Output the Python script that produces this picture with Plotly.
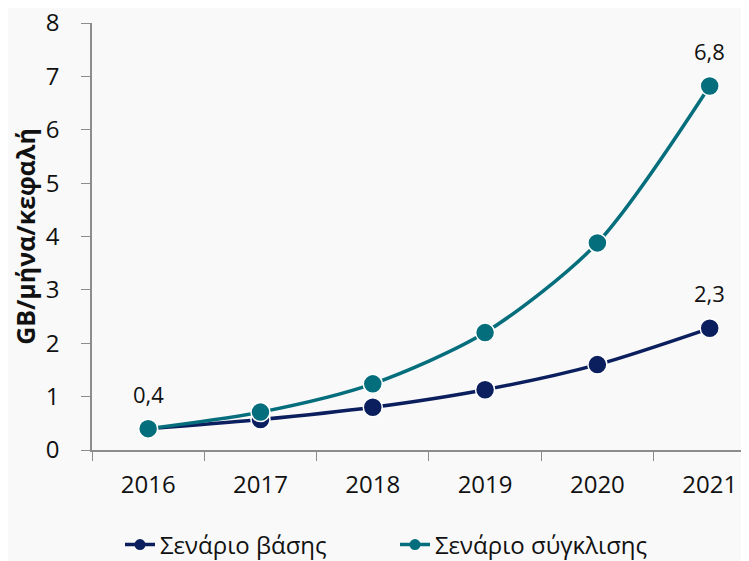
import plotly.graph_objects as go

years = ["2016", "2017", "2018", "2019", "2020", "2021"]
base = [0.4, 0.57, 0.8, 1.13, 1.6, 2.28]
conv = [0.4, 0.71, 1.24, 2.2, 3.88, 6.82]
base_labels = ["", "", "", "", "", "2,3"]
conv_labels = ["0,4", "", "", "", "", "6,8"]
y_ticks = [0, 1, 2, 3, 4, 5, 6, 7, 8]
names = ["Σενάριο βάσης", "Σενάριο σύγκλισης"]

FONT = "Open Sans"
NAVY = "#0b1f5e"
TEAL = "#056e7c"

fig = go.Figure()
for vals, labels, color, name in [(base, base_labels, NAVY, names[0]),
                                  (conv, conv_labels, TEAL, names[1])]:
    fig.add_trace(go.Scatter(
        x=years, y=vals, name=name, mode="lines+markers", showlegend=False,
        line=dict(color=color, width=3.5, shape="spline", smoothing=0.8),
        marker=dict(size=19, color=color, line=dict(color="white", width=1.5)),
        cliponaxis=False,
    ))
    for i, (yv, t) in enumerate(zip(vals, labels)):
        if t:
            fig.add_annotation(x=i, y=yv, xref="x", yref="y", text=t,
                               showarrow=False, yshift=35,
                               font=dict(family=FONT, size=22, color="#111111"))

# legend entries (one legend each, to control spacing), smaller markers
for color, name, lg in [(NAVY, names[0], "legend"), (TEAL, names[1], "legend2")]:
    fig.add_trace(go.Scatter(
        x=[None], y=[None], name=name, mode="lines+markers", legend=lg,
        line=dict(color=color, width=3.5),
        marker=dict(size=11, color=color),
    ))

leg_common = dict(orientation="h", xanchor="left", xref="container",
                  y=24 / 561, yanchor="middle", yref="container",
                  font=dict(size=24), bgcolor="rgba(0,0,0,0)")

fig.update_layout(
    width=749, height=561,
    margin=dict(l=84, r=8, t=15, b=119),
    paper_bgcolor="#f9f9f9", plot_bgcolor="#f9f9f9",
    font=dict(family=FONT, size=24, color="#111111"),
    showlegend=True,
    legend=dict(x=112 / 749, **leg_common),
    legend2=dict(x=387 / 749, **leg_common),
    xaxis=dict(type="category", range=[-0.5, 5.35], showgrid=False,
               showline=True, linecolor="#8c8c8c", linewidth=1.5,
               ticks="outside", tickson="boundaries", ticklen=9,
               tickcolor="#8c8c8c", ticklabelstandoff=12, automargin=False,
               tickfont=dict(size=24)),
    yaxis=dict(range=[0, 8], tickvals=y_ticks, showgrid=False, zeroline=False,
               showline=True, linecolor="#8c8c8c", linewidth=1.5,
               ticks="outside", ticklen=9, tickcolor="#8c8c8c", automargin=False,
               ticklabelstandoff=17, tickfont=dict(size=24),
               ticklabeloverflow="allow",
               title=dict(text="<b>GB/μήνα/κεφαλή</b>", font=dict(size=25), standoff=5)),
)
fig.write_html("out.html")
